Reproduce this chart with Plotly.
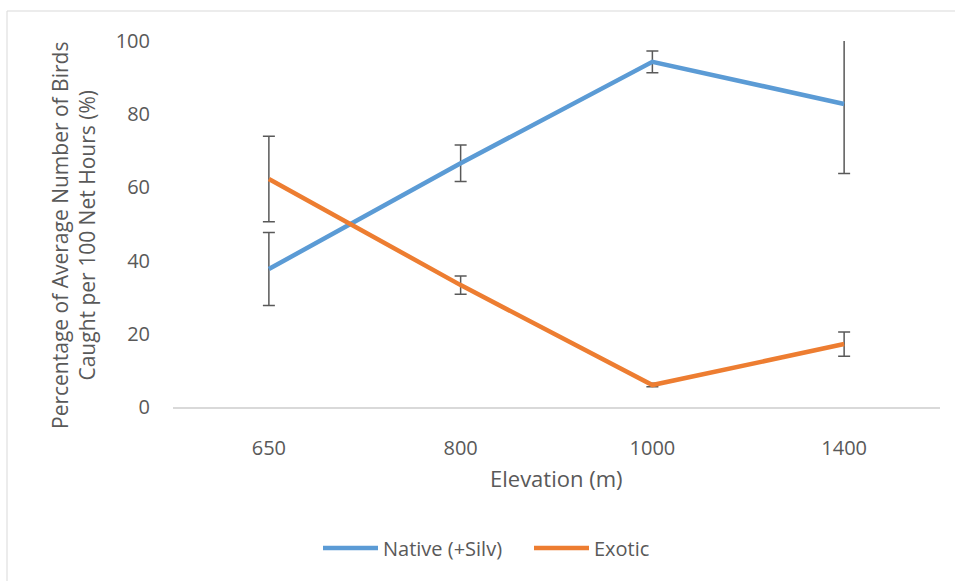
import plotly.graph_objects as go

elevations = ["650", "800", "1000", "1400"]
native = [37.7, 66.6, 94.3, 82.8]
native_err = [10.0, 5.0, 3.0, 19.0]
exotic = [62.3, 33.3, 6.0, 17.2]
exotic_err = [11.7, 2.5, 0.5, 3.3]

FONT = "Open Sans"
GRAY = "#595959"

fig = go.Figure()
fig.add_trace(go.Scatter(
    x=elevations, y=native, name="Native (+Silv)", mode="lines",
    line=dict(color="#5B9BD5", width=4.5),
    error_y=dict(type="data", array=native_err, visible=True, color=GRAY, thickness=1.5, width=6),
))
fig.add_trace(go.Scatter(
    x=elevations, y=exotic, name="Exotic", mode="lines",
    line=dict(color="#ED7D31", width=4.5),
    error_y=dict(type="data", array=exotic_err, visible=True, color=GRAY, thickness=1.5, width=6),
))

L, R, T, B = 173, 15, 41, 174
W, H = 955, 581
pw, ph = W - L - R, H - T - B

def px2x(px):
    return (px - L) / pw

def py2y(py):
    return (H - B - py) / ph

fig.update_layout(
    width=W, height=H,
    margin=dict(l=L, r=R, t=T, b=B, pad=0),
    paper_bgcolor="white", plot_bgcolor="white",
    font=dict(family=FONT, color=GRAY, size=20),
    showlegend=True,
    legend=dict(orientation="h", xref="container", yref="container",
                x=529 / W, xanchor="center", y=1 - 548 / H, yanchor="middle",
                font=dict(size=20, color=GRAY), itemwidth=55,
                entrywidth=141, entrywidthmode="pixels"),
    xaxis=dict(type="category", range=[-0.5, 3.5], showgrid=False, showline=True,
               linecolor="#D9D9D9", linewidth=1.5, ticks="",
               tickfont=dict(size=20, color=GRAY), ticklabelstandoff=22, zeroline=False),
    yaxis=dict(range=[0, 100], tickvals=[0, 20, 40, 60, 80, 100], showgrid=False,
               showline=False, zeroline=False, ticks="", tickfont=dict(size=20, color=GRAY),
               ticklabelstandoff=22),
    shapes=[dict(type="rect", xref="paper", yref="paper",
                 x0=px2x(7), x1=px2x(962), y0=py2y(600), y1=py2y(11),
                 line=dict(color="#D9D9D9", width=1), fillcolor="rgba(0,0,0,0)", layer="below")],
    annotations=[
        dict(text="Elevation (m)", xref="paper", yref="paper", x=px2x(556), y=py2y(478),
             showarrow=False, font=dict(size=22, color=GRAY), xanchor="center", yanchor="middle"),
        dict(text="Percentage of Average Number of Birds<br>Caught per 100 Net Hours (%)",
             xref="paper", yref="paper", x=px2x(73), y=py2y(236), textangle=-90,
             showarrow=False, font=dict(size=21, color=GRAY), xanchor="center", yanchor="middle"),
    ],
)

fig.write_html("out.html", config={"displayModeBar": False},
               post_script="document.body.style.margin='0px';")
